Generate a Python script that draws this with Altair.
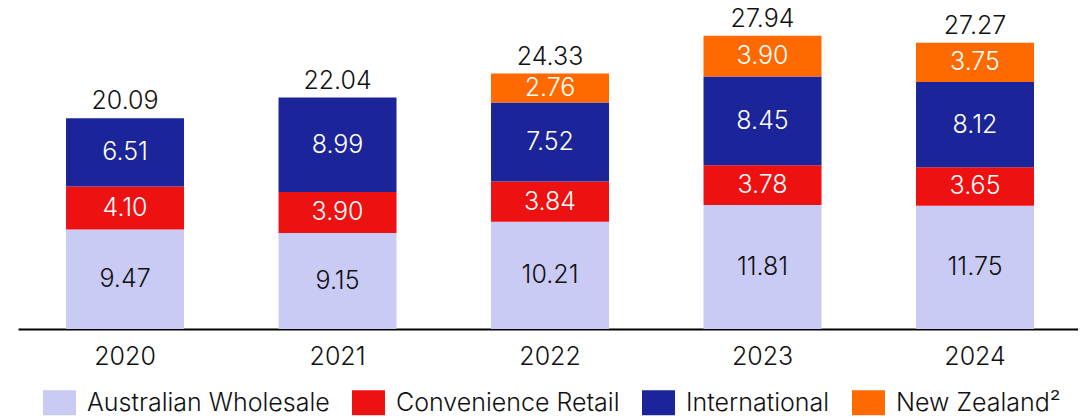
import altair as alt
import pandas as pd

years = ["2020", "2021", "2022", "2023", "2024"]
segments = ["Australian Wholesale", "Convenience Retail", "International", "New Zealand²"]
aus_wholesale = [9.47, 9.15, 10.21, 11.81, 11.75]
conv_retail = [4.10, 3.90, 3.84, 3.78, 3.65]
international = [6.51, 8.99, 7.52, 8.45, 8.12]
new_zealand = [None, None, 2.76, 3.90, 3.75]
totals = [20.09, 22.04, 24.33, 27.94, 27.27]
colors = ["#C9CBF5", "#EE1111", "#1B2499", "#FF6A00"]
label_colors = ["#111111", "#FFFFFF", "#FFFFFF", "#FFFFFF"]

rows = []
for si, (seg, vals) in enumerate(zip(segments, [aus_wholesale, conv_retail, international, new_zealand])):
    for y, v in zip(years, vals):
        if v is None:
            continue
        rows.append({"year": y, "segment": seg, "value": v, "order": si,
                     "label": f"{v:.2f}", "lc": label_colors[si]})
df = pd.DataFrame(rows)
tot = pd.DataFrame({"year": years, "total": totals, "label": [f"{t:.2f}" for t in totals]})

FONT = "Inter"
W = 300
xenc = alt.X("year:N", sort=years,
             scale=alt.Scale(paddingInner=0.4447, paddingOuter=0.2165, align=0.522),
             axis=alt.Axis(title=None, labelAngle=0, ticks=False, domainColor="#000000",
                           domainWidth=2, labelFontSize=25, labelColor="#111111",
                           labelFont=FONT, labelFontWeight=W, labelPadding=15))
yscale = alt.Scale(domain=[0, 30.0], nice=False, zero=True)

base = alt.Chart(df).transform_stack(
    stack="value", as_=["y0", "y1"], groupby=["year"],
    sort=[alt.SortField("order", order="ascending")]
).transform_calculate(mid="(datum.y0 + datum.y1) / 2")

bars = base.mark_bar().encode(
    x=xenc,
    y=alt.Y("y0:Q", scale=yscale, axis=None),
    y2="y1:Q",
    color=alt.Color("segment:N", sort=segments,
                    scale=alt.Scale(domain=segments, range=colors),
                    legend=alt.Legend(title=None, orient="none", legendX=29, legendY=376,
                                      direction="horizontal",
                                      symbolType="M-1.32,-1H1.32V1H-1.32Z",
                                      symbolSize=625, symbolStrokeWidth=0,
                                      labelFontSize=25, labelFont=FONT, labelFontWeight=W,
                                      labelColor="#111111",
                                      columnPadding=22, labelOffset=15, labelLimit=400)),
)

labels = base.mark_text(fontSize=25, font=FONT, fontWeight=W, baseline="middle").encode(
    x=alt.X("year:N", sort=years),
    y=alt.Y("mid:Q", scale=yscale),
    text="label:N",
    color=alt.Color("lc:N", scale=None),
)

top = alt.Chart(tot).mark_text(fontSize=25, font=FONT, fontWeight=W, baseline="alphabetic", dy=-9,
                                color="#111111").encode(
    x=alt.X("year:N", sort=years),
    y=alt.Y("total:Q", scale=yscale),
    text="label:N",
)

chart = alt.layer(bars, labels, top).properties(
    width=1060, height=315,
    autosize=alt.AutoSizeParams(type="none"),
    padding={"left": 10, "top": 6, "right": 0, "bottom": 88},
).configure_view(stroke=None)

chart.save("out.html", embed_options={"renderer": "svg", "actions": False})
